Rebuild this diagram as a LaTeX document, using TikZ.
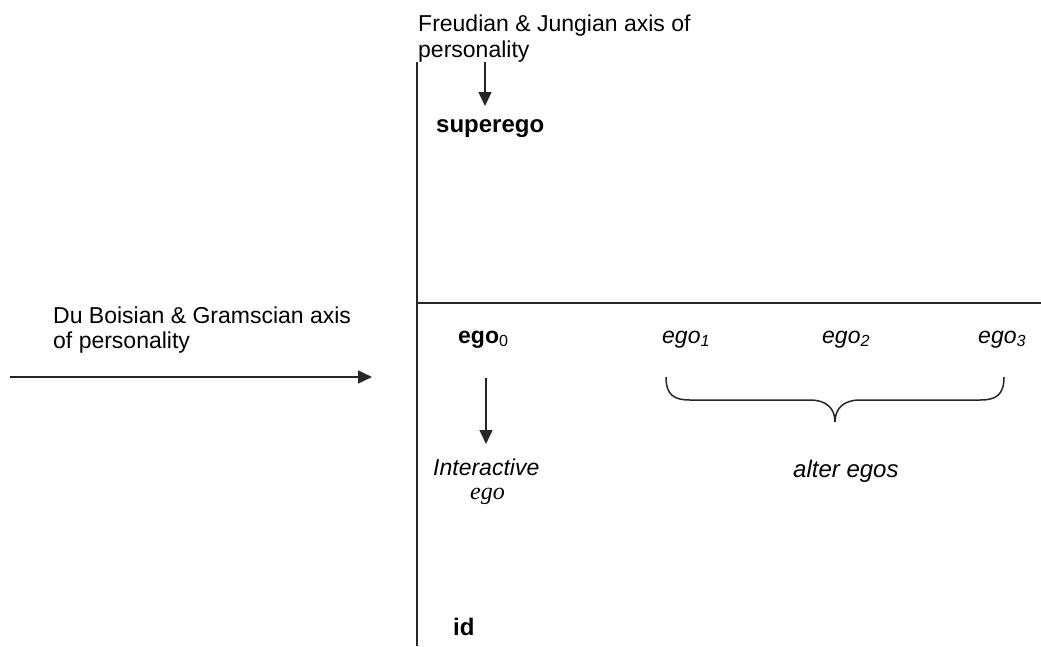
\documentclass[tikz,border=0pt]{standalone}
\usepackage{fontspec}
\setmainfont{Liberation Sans}
\newfontfamily\timesfont{Liberation Serif}
\usetikzlibrary{arrows.meta}
\tikzset{
  lbl/.style={anchor=base west, inner sep=0pt, font=\fontsize{23}{26}\selectfont},
  axis/.style={line width=1.5pt, black!85},
  arr/.style={line width=1.5pt, black!85, -{Triangle[length=14pt,width=13pt]}},
  brace/.style={line width=1.5pt, black!85},
}
\begin{document}
\begin{tikzpicture}[x=1pt,y=-1pt]
\useasboundingbox (0,0) rectangle (1041,646);
% axes
\coordinate (vtop) at (417,62);
\coordinate (vbot) at (417,646);
\coordinate (hleft) at (417,303);
\coordinate (hright) at (1041,303);
\draw[axis] (vtop) -- (vbot);
\draw[axis] (hleft) -- (hright);
% labels
\node[lbl] (freud1) at (418,31) {Freudian \& Jungian axis of};
\node[lbl] (freud2) at (418,57) {personality};
\node[lbl] (dub1) at (53,323) {Du Boisian \& Gramscian axis};
\node[lbl] (dub2) at (53,348) {of personality};
\node[lbl, font=\fontsize{24}{26}\selectfont\bfseries] (superego) at (436,132) {superego};
\node[lbl, font=\fontsize{24}{26}\selectfont\bfseries] (id) at (453,635) {id};
\node[lbl] (ego0) at (458,343) {\textbf{ego}\textsubscript{0}};
\node[lbl, font=\fontsize{23}{26}\selectfont\itshape] (ego1) at (662,343) {ego\textsubscript{1}};
\node[lbl, font=\fontsize{23}{26}\selectfont\itshape] (ego2) at (822,343) {ego\textsubscript{2}};
\node[lbl, font=\fontsize{23}{26}\selectfont\itshape] (ego3) at (978,343) {ego\textsubscript{3}};
\node[lbl, font=\fontsize{23}{26}\selectfont\itshape] (inter) at (433,475) {Interactive};
\node[lbl, font=\fontsize{24}{26}\selectfont\timesfont\itshape] (interego) at (470,499) {ego};
\node[lbl, font=\fontsize{24}{26}\selectfont\itshape] (alter) at (793,477) {alter egos};
% arrows
\coordinate (fa1) at (485,62);
\coordinate (fa2) at (485,106);
\draw[arr] (fa1) -- (fa2);
\coordinate (ha1) at (10,377);
\coordinate (ha2) at (372,377);
\draw[arr] (ha1) -- (ha2);
\coordinate (ea1) at (486,378);
\coordinate (ea2) at (486,444);
\draw[arr] (ea1) -- (ea2);
% brace
\coordinate (bl) at (666,377);
\coordinate (br) at (1004,377);
\coordinate (btip) at (835,422);
\draw[brace] (bl) .. controls (666,395) and (674,400) .. (690,400)
  -- (810,400) .. controls (826,400) and (835,408) .. (btip)
  .. controls (835,408) and (844,400) .. (860,400)
  -- (980,400) .. controls (996,400) and (1004,395) .. (br);
\end{tikzpicture}
\end{document}
